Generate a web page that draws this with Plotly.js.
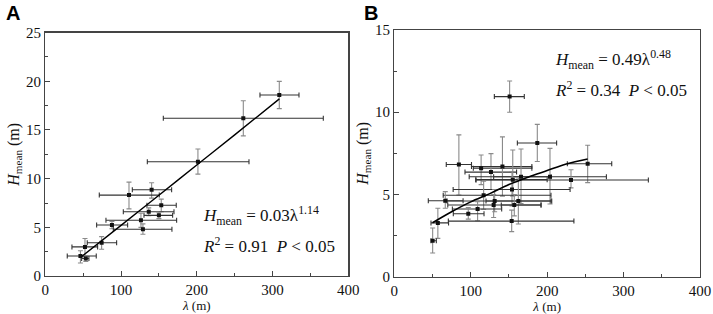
<!DOCTYPE html>
<html>
<head>
<meta charset="utf-8">
<script src="https://cdn.plot.ly/plotly-3.0.1.min.js"></script>
<style>html,body{margin:0;padding:0;background:#fff;}#chart{width:713px;height:314px;}</style>
</head>
<body>
<div id="chart"></div>
<script>
// Panel A data
const aX   = [308.9, 261.4, 201.5, 140.4, 110.5, 153.1, 136.6, 150.0, 126.3, 88.0, 128.9, 74.4, 52.4, 46.4, 53.5];
const aY   = [18.6, 16.2, 11.74, 8.86, 8.31, 7.27, 6.6, 6.23, 5.73, 5.24, 4.81, 3.42, 2.99, 2.05, 1.8];
const aXlo = [283.4, 155.8, 134.7, 114.9, 71.3, 134.2, 103.0, 130.3, 80.1, 67.8, 89.8, 55.4, 35.2, 29.0, 48.0];
const aXhi = [334.9, 367.0, 268.9, 166.8, 150.5, 172.9, 169.9, 168.1, 173.4, 108.7, 167.2, 94.2, 69.1, 67.3, 57.6];
const aYlo = [17.2, 14.4, 10.47, 8.0, 6.9, 6.6, 6.2, 5.9, 5.0, 4.85, 4.29, 2.75, 1.99, 1.34, 1.5];
const aYhi = [20.0, 18.0, 13.05, 9.58, 9.65, 7.9, 7.0, 6.55, 6.45, 5.6, 5.36, 4.05, 3.85, 2.6, 2.1];
const fitAx = [48, 100, 150, 200, 250, 309];
const fitAy = [2.0, 5.2, 8.3, 11.4, 14.5, 18.2];

// Panel B data
const bX   = [150.9, 187.1, 253.0, 84.5, 113.6, 126.5, 141.5, 165.8, 203.7, 231.2, 155.0, 154.0, 116.9, 66.7, 131.3, 162.3, 130.0, 157.0, 109.0, 96.8, 153.6, 57.0, 50.2];
const bY   = [10.95, 8.13, 6.87, 6.82, 6.6, 6.36, 6.7, 6.08, 6.08, 5.88, 5.9, 5.3, 4.95, 4.62, 4.6, 4.6, 4.36, 4.36, 4.12, 3.83, 3.38, 3.27, 2.19];
const bXlo = [130.9, 161.0, 226.4, 68.0, 103.4, 92.5, 101.0, 98.0, 130.0, 107.0, 106.5, 77.0, 64.0, 44.5, 69.0, 120.0, 70.0, 140.0, 76.0, 77.2, 70.7, 48.0, 48.0];
const bXhi = [170.1, 212.4, 284.5, 101.0, 180.0, 160.0, 180.0, 205.0, 277.5, 332.4, 200.0, 230.0, 205.0, 90.0, 205.0, 206.0, 192.0, 192.0, 140.5, 117.4, 235.0, 71.0, 55.0];
const bYlo = [10.0, 7.0, 5.72, 4.97, 5.6, 5.3, 4.9, 4.45, 4.42, 5.4, 4.9, 4.3, 4.1, 4.16, 3.95, 3.2, 3.6, 3.7, 3.4, 3.5, 2.74, 2.33, 1.44];
const bYhi = [11.9, 9.26, 7.99, 8.62, 7.4, 7.48, 8.5, 7.76, 7.8, 6.5, 7.7, 6.4, 5.8, 5.17, 5.3, 6.0, 5.0, 5.0, 4.56, 4.2, 4.05, 4.16, 2.96];
const fitBx = [50, 75, 100, 125, 150, 175, 200, 225, 253];
const fitBy = [3.28, 3.95, 4.55, 5.05, 5.6, 6.05, 6.45, 6.85, 7.16];

const xTicksA = [0, 100, 200, 300, 400];
const yTicksA = [0, 5, 10, 15, 20, 25];
const yTicksB = [0, 5, 10, 15];

function diff(a, b) { return a.map((v, i) => v - b[i]); }

const serif = 'Liberation Serif';

function pts(x, y, xlo, xhi, ylo, yhi, xa, ya) {
  return {
    type: 'scatter', mode: 'markers', x: x, y: y, xaxis: xa, yaxis: ya,
    marker: {symbol: 'square', size: 4, color: '#111'},
    error_x: {type: 'data', symmetric: false, array: diff(xhi, x), arrayminus: diff(x, xlo),
              color: '#333', thickness: 1.1, width: 2.5},
    error_y: {type: 'data', symmetric: false, array: diff(yhi, y), arrayminus: diff(y, ylo),
              color: '#8a8a8a', thickness: 1.1, width: 2.5},
    showlegend: false, hoverinfo: 'skip'
  };
}

const data = [
  pts(aX, aY, aXlo, aXhi, aYlo, aYhi, 'x', 'y'),
  {type: 'scatter', mode: 'lines', x: fitAx, y: fitAy, xaxis: 'x', yaxis: 'y',
   line: {color: '#000', width: 1.4, shape: 'spline'}, showlegend: false},
  pts(bX, bY, bXlo, bXhi, bYlo, bYhi, 'x2', 'y2'),
  {type: 'scatter', mode: 'lines', x: fitBx, y: fitBy, xaxis: 'x2', yaxis: 'y2',
   line: {color: '#000', width: 1.6, shape: 'spline'}, showlegend: false}
];

function xax(domain, anchor) {
  return {
    domain: domain, anchor: anchor, range: [0, 400], tickvals: xTicksA,
    showgrid: false, zeroline: false, showline: true, mirror: true,
    linecolor: '#444', linewidth: 1.2, ticks: 'inside', ticklen: 5, tickcolor: '#444',
    minor: {dtick: 50, ticks: 'inside', ticklen: 3, tickcolor: '#444'},
    tickfont: {family: serif, size: 15, color: '#111'},
    title: {text: '<i>λ</i> (m)', font: {family: serif, size: 13, color: '#111'}, standoff: 3}
  };
}
function yax(domain, anchor, range, ticks, minor) {
  return {
    domain: domain, anchor: anchor, range: range, tickvals: ticks,
    showgrid: false, zeroline: false, showline: true, mirror: true,
    linecolor: '#444', linewidth: 1.2, ticks: 'inside', ticklen: 5, tickcolor: '#444',
    minor: {dtick: minor, ticks: 'inside', ticklen: 3, tickcolor: '#444'},
    tickfont: {family: serif, size: 15, color: '#111'},
    title: {text: '<i>H</i><sub>mean</sub> (m)', font: {family: serif, size: 16, color: '#111'}, standoff: 2}
  };
}

const layout = {
  width: 713, height: 314,
  margin: {l: 0, r: 0, t: 0, b: 0},
  font: {family: serif, size: 15, color: '#111'},
  paper_bgcolor: '#fff', plot_bgcolor: '#fff',
  xaxis: xax([0.0635, 0.4885], 'y'),
  yaxis: yax([0.121, 0.896], 'x', [0, 25], yTicksA, 2.5),
  xaxis2: xax([0.553, 0.9818], 'y2'),
  yaxis2: yax([0.1188, 0.9045], 'x2', [0, 15], yTicksB, 2.5),
  annotations: [
    {text: '<b>A</b>', xref: 'paper', yref: 'paper', x: 0.005, y: 1.0, xanchor: 'left', yanchor: 'top',
     showarrow: false, font: {family: 'Liberation Sans', size: 20, color: '#000'}},
    {text: '<b>B</b>', xref: 'paper', yref: 'paper', x: 0.508, y: 1.0, xanchor: 'left', yanchor: 'top',
     showarrow: false, font: {family: 'Liberation Sans', size: 20, color: '#000'}},
    {text: '<i>H</i><sub>mean</sub> = 0.03λ<sup>1.14</sup>', xref: 'x', yref: 'y', x: 205, y: 6.2,
     xanchor: 'left', yanchor: 'middle', showarrow: false, font: {family: serif, size: 17, color: '#111'}},
    {text: '<i>R</i><sup>2</sup> = 0.91  <i>P</i> < 0.05', xref: 'x', yref: 'y', x: 205, y: 3.2,
     xanchor: 'left', yanchor: 'middle', showarrow: false, font: {family: serif, size: 17, color: '#111'}},
    {text: '<i>H</i><sub>mean</sub> = 0.49λ<sup>0.48</sup>', xref: 'x2', yref: 'y2', x: 207, y: 13.2,
     xanchor: 'left', yanchor: 'middle', showarrow: false, font: {family: serif, size: 17, color: '#111'}},
    {text: '<i>R</i><sup>2</sup> = 0.34  <i>P</i> < 0.05', xref: 'x2', yref: 'y2', x: 207, y: 11.4,
     xanchor: 'left', yanchor: 'middle', showarrow: false, font: {family: serif, size: 17, color: '#111'}}
  ]
};

Plotly.newPlot('chart', data, layout, {staticPlot: true, displayModeBar: false});
</script>
</body>
</html>
